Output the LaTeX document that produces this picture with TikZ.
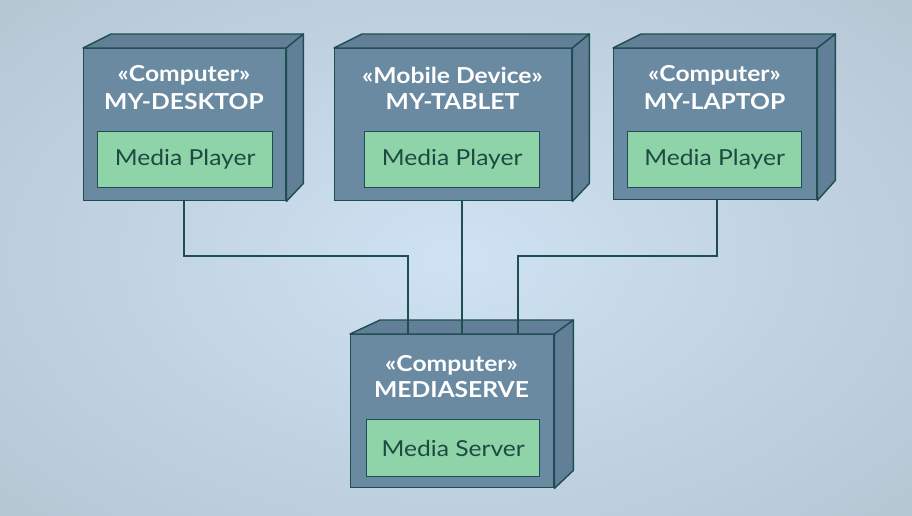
\documentclass[tikz,border=0pt]{standalone}
\usepackage{fontspec}
\setmainfont{Lato}[FakeStretch=1.12]
\usetikzlibrary{calc}
\definecolor{bgin}{HTML}{CFE2F3}
\definecolor{bgout}{HTML}{B0C1CD}
\definecolor{frontc}{HTML}{6A8AA1}
\definecolor{sidec}{HTML}{617F96}
\definecolor{edgec}{HTML}{1F4E52}
\definecolor{greenc}{HTML}{8FD4A9}
\definecolor{gtext}{HTML}{1D4A42}
\tikzset{
  frontface/.style={draw=edgec, line width=1.4pt, fill=frontc, inner sep=0pt, anchor=north west},
  sideface/.style={draw=edgec, line width=1.4pt, fill=sidec, line join=round},
  comp/.style={draw=edgec, line width=1.4pt, fill=greenc, inner sep=0pt, anchor=north west,
    text=gtext, font=\fontsize{22}{24}\selectfont},
  stereo/.style={text=white, font=\bfseries\fontsize{22}{24}\selectfont, inner sep=0pt},
  conn/.style={draw=edgec, line width=1.2pt}
}
\newcommand\nodefaces[4]{% name, dx left, dx right, dy bottom
  \path[sideface] (#1.north west) -- ++(#2,14) -- ($(#1.north east)+(#3,14)$) -- (#1.north east) -- cycle;
  \path[sideface] (#1.north east) -- ++(#3,14) -- ($(#1.south east)+(#3,#4)$) -- (#1.south east) -- cycle;
}
\begin{document}
\begin{tikzpicture}[x=1pt,y=1pt]
\useasboundingbox (0,0) rectangle (912,-515);
\shade[inner color=bgin, outer color=bgout] (-300,200) rectangle (1212,-715);

% desktop
\node[frontface, minimum width=202pt, minimum height=152pt] (desk) at (83,-48) {};
\nodefaces{desk}{28}{17}{18}
\node[stereo] (deskS) at (184,-75) {«Computer»};
\node[stereo] (deskN) at (184,-102) {MY-DESKTOP};
\node[comp, minimum width=175pt, minimum height=56pt] (deskC) at (97,-131) {Media Player};

% tablet
\node[frontface, minimum width=237pt, minimum height=152pt] (tab) at (334,-48) {};
\nodefaces{tab}{28}{17}{18}
\node[stereo] (tabS) at (452.5,-75) {«Mobile Device»};
\node[stereo] (tabN) at (452.5,-102) {MY-TABLET};
\node[comp, minimum width=175pt, minimum height=56pt] (tabC) at (364,-131) {Media Player};

% laptop
\node[frontface, minimum width=203pt, minimum height=151pt] (lap) at (613,-48) {};
\nodefaces{lap}{28}{18}{20}
\node[stereo] (lapS) at (714.5,-75) {«Computer»};
\node[stereo] (lapN) at (714.5,-102) {MY-LAPTOP};
\node[comp, minimum width=174pt, minimum height=56pt] (lapC) at (627,-131) {Media Player};

% server
\node[frontface, minimum width=203pt, minimum height=153pt] (srv) at (350,-334) {};
\nodefaces{srv}{30}{19}{18}
\node[stereo] (srvS) at (451.5,-365) {«Computer»};
\node[stereo] (srvN) at (451.5,-390) {MEDIASERVE};
\node[comp, minimum width=173pt, minimum height=57pt] (srvC) at (366,-419) {Media Server};

% connectors
\coordinate (j1) at (184,-256);
\coordinate (j2) at (408,-256);
\coordinate (t1) at (462,-256);
\coordinate (j3) at (717,-256);
\coordinate (j4) at (518,-256);
\draw[conn] (desk.south -| j1) -- (j1) -- (j2) -- (srv.north -| j2);
\draw[conn] (tab.south -| t1) -- (srv.north -| t1);
\draw[conn] (lap.south -| j3) -- (j3) -- (j4) -- (srv.north -| j4);
\end{tikzpicture}
\end{document}
